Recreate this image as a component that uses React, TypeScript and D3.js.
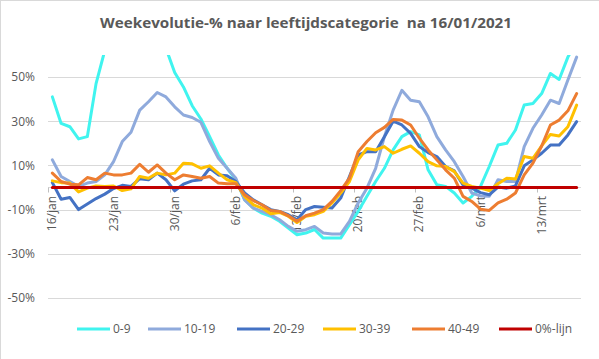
import React from "react";
import * as d3 from "d3";

// ---- data ----
const startDate = new Date(2021, 0, 16);
const endDate = new Date(2021, 2, 18);
const categories: Date[] = d3.timeDay.range(startDate, endDate);

const tickLabels = ["16/jan", "23/jan", "30/jan", "6/feb", "13/feb", "20/feb", "27/feb", "6/mrt", "13/mrt"];
const yTicks = [-50, -30, -10, 10, 30, 50];

const seriesNames = ["0-9", "10-19", "20-29", "30-39", "40-49", "0%-lijn"];
const seriesColors = ["#40F4EF", "#8FAADC", "#4472C4", "#FFC000", "#ED7D31", "#C00000"];

const s0_9 = [41, 29, 27.5, 22, 23, 47, 62, 70, 76, 82, 85, 80, 72, 63, 52, 45.5, 37, 31, 23, 14.7,
  8.7, 3.5, -5.5, -9.3, -11.6, -13, -15.3, -18.3, -21.4, -20.6, -19, -22.9, -22.9, -22.9, -16.8, -10.8, -4, 2.7, 8.7, 17,
  23, 25.3, 23.8, 8, 1.2, 0.5, -2.5, -7, -4, 0.5, 9.5, 19.2, 20, 26, 37.3, 38, 42.5, 51.6, 48.9, 59, 66];
const s10_19 = [12.5, 5, 2.7, 0.5, 2, 2.7, 5.7, 11.7, 20.8, 25, 35, 38.8, 43, 41, 36.5, 32.8, 31.7, 29.5, 20.8, 13.2,
  8.7, 4.2, -5.6, -9.3, -10.8, -12.3, -14.6, -17.6, -19.8, -19.1, -17.6, -20.6, -21, -21, -15.3, -7, -0.3, 8.7, 23, 35,
  44, 39.5, 38.8, 32, 23, 17, 11.7, 5, -2.5, -3.8, -4, 3.5, 2.7, 2.7, 18.5, 26.8, 32.8, 39.5, 38, 48.6, 59];
const s20_29 = [2.2, -5.3, -4.5, -10, -7.5, -5, -3, -0.5, 1, 0.5, 4, 3.5, 6.5, 3.5, -1.5, 1.5, 3, 3.5, 8.7, 5.7,
  5.3, 2.7, -2.5, -5.6, -7.8, -10, -10.8, -12.3, -14.6, -10, -8.6, -8.9, -9.3, -4.8, 5, 14.7, 16.2, 16.2, 23, 30,
  28.3, 24.5, 18.5, 15.8, 14, 9.5, 7.5, 1.2, -0.3, -2.3, -3.3, 0.2, -0.3, 0.7, 9.8, 12.5, 15.5, 19.2, 19.2, 23.8, 29.8];
const s30_39 = [3, 2.2, 2, -2, -0.3, 0.7, 0.5, 0.7, -1.4, -0.6, 5, 4.2, 6.5, 5.7, 6.5, 11, 10.7, 8.7, 9.8, 6.5,
  3.5, 2.2, -4, -7.8, -9.3, -11.9, -11.3, -13, -15.8, -13, -12.3, -10.8, -7, -2.5, 2.7, 12.5, 17.7, 17, 18.5, 15.5,
  17.3, 18.8, 15.5, 11.7, 9.8, 9.5, 7.2, 2, 0.5, -0.3, -1.4, 1.7, 4.2, 3.8, 14, 13.2, 18.8, 24, 23.3, 27.5, 37.3];
const s40_49 = [6.5, 2.7, 1.5, 1.2, 4.5, 3.5, 6.5, 5.7, 5.7, 6.5, 10.5, 6.9, 10.2, 6.5, 3.5, 5.7, 5, 4.2, 5, 2,
  1.7, 1.7, -3.3, -5.9, -7.8, -10.4, -10.8, -12.8, -15.3, -12.8, -11.6, -10, -6.3, -1.4, 4.2, 16.2, 20.8, 24.8, 27.2, 30.8,
  30.5, 28.3, 22.3, 17, 12.5, 8, 4.2, -4, -6.3, -9.8, -10.4, -7, -5.3, -2.5, 5.7, 11, 18.8, 28.3, 30.5, 34.7, 42.5];
const sZero = categories.map(() => 0);

const seriesValues = [s0_9, s10_19, s20_29, s30_39, s40_49, sZero];

// ---- layout ----
const W = 599;
const H = 359;
const plot = { left: 48, right: 581, top: 54.9, bottom: 298 };
const legendX = [77, 148, 237, 323, 412, 499];
const legendY = 329;
const FONT = "'Open Sans', 'Liberation Sans', sans-serif";
const TEXT = "#595959";

export default function App() {
  const x = d3
    .scaleBand<number>()
    .domain(categories.map((_, i) => i))
    .range([plot.left, plot.right])
    .paddingInner(0)
    .paddingOuter(0);
  const bw = x.bandwidth();
  const cx = (i: number) => (x(i) as number) + bw / 2;
  const y = d3.scaleLinear().domain([-50, 60]).range([plot.bottom, plot.top]);

  const line = d3
    .line<number>()
    .x((_, i) => cx(i))
    .y((v) => y(v));

  const tickIdx = tickLabels.map((_, k) => k * 7);

  return (
    <svg
      width={W}
      height={H}
      style={{ position: "absolute", left: 0, top: 0, background: "#fff" }}
      fontFamily={FONT}
    >
      <defs>
        <clipPath id="plotClip">
          <rect x={plot.left} y={plot.top} width={plot.right - plot.left} height={plot.bottom - plot.top + 2} />
        </clipPath>
      </defs>
      <rect x={0} y={0} width={W} height={H} fill="#fff" />
      <line x1={0.5} y1={0} x2={0.5} y2={H} stroke="#D9D9D9" />
      <line x1={0} y1={0.5} x2={W} y2={0.5} stroke="#D9D9D9" />

      <text
        x={306}
        y={28}
        textAnchor="middle"
        fontSize={14}
        fontWeight={700}
        fill={TEXT}
        textLength={412}
        lengthAdjust="spacingAndGlyphs"
        style={{ whiteSpace: "pre" }}
      >
        {"Weekevolutie-% naar leeftijdscategorie  na 16/01/2021"}
      </text>

      {/* gridlines */}
      {yTicks.map((t) => (
        <line
          key={t}
          x1={plot.left}
          x2={plot.right}
          y1={Math.round(y(t)) + 0.5}
          y2={Math.round(y(t)) + 0.5}
          stroke="#D9D9D9"
          strokeWidth={1}
        />
      ))}
      {yTicks.map((t) => (
        <text key={"l" + t} x={35} y={y(t)} dy="0.36em" textAnchor="end" fontSize={12} fill={TEXT}>
          {t + "%"}
        </text>
      ))}

      {/* category axis at 0 */}
      <line x1={plot.left} x2={plot.right} y1={y(0)} y2={y(0)} stroke="#D9D9D9" />
      {tickIdx.map((i) => (
        <line
          key={"t" + i}
          x1={Math.round(x(i) as number) + 0.5}
          x2={Math.round(x(i) as number) + 0.5}
          y1={y(0)}
          y2={y(0) + 5}
          stroke="#BFBFBF"
        />
      ))}
      {tickIdx.map((i, k) => (
        <text
          key={"x" + i}
          transform={`translate(${cx(i) + 4},196) rotate(-90)`}
          textAnchor="end"
          fontSize={12}
          fill={TEXT}
        >
          {tickLabels[k]}
        </text>
      ))}

      {/* series */}
      <g clipPath="url(#plotClip)">
        {seriesValues.map((vals, s) => (
          <path
            key={seriesNames[s]}
            d={line(vals) || ""}
            fill="none"
            stroke={seriesColors[s]}
            strokeWidth={3}
            strokeLinejoin="round"
            strokeLinecap="round"
          />
        ))}
      </g>

      {/* legend */}
      {seriesNames.map((name, s) => (
        <g key={"lg" + name}>
          <line
            x1={legendX[s]}
            x2={legendX[s] + 33}
            y1={legendY}
            y2={legendY}
            stroke={seriesColors[s]}
            strokeWidth={3}
          />
          <text x={legendX[s] + 36} y={legendY} dy="0.36em" fontSize={12} fill={TEXT}>
            {name}
          </text>
        </g>
      ))}
    </svg>
  );
}
